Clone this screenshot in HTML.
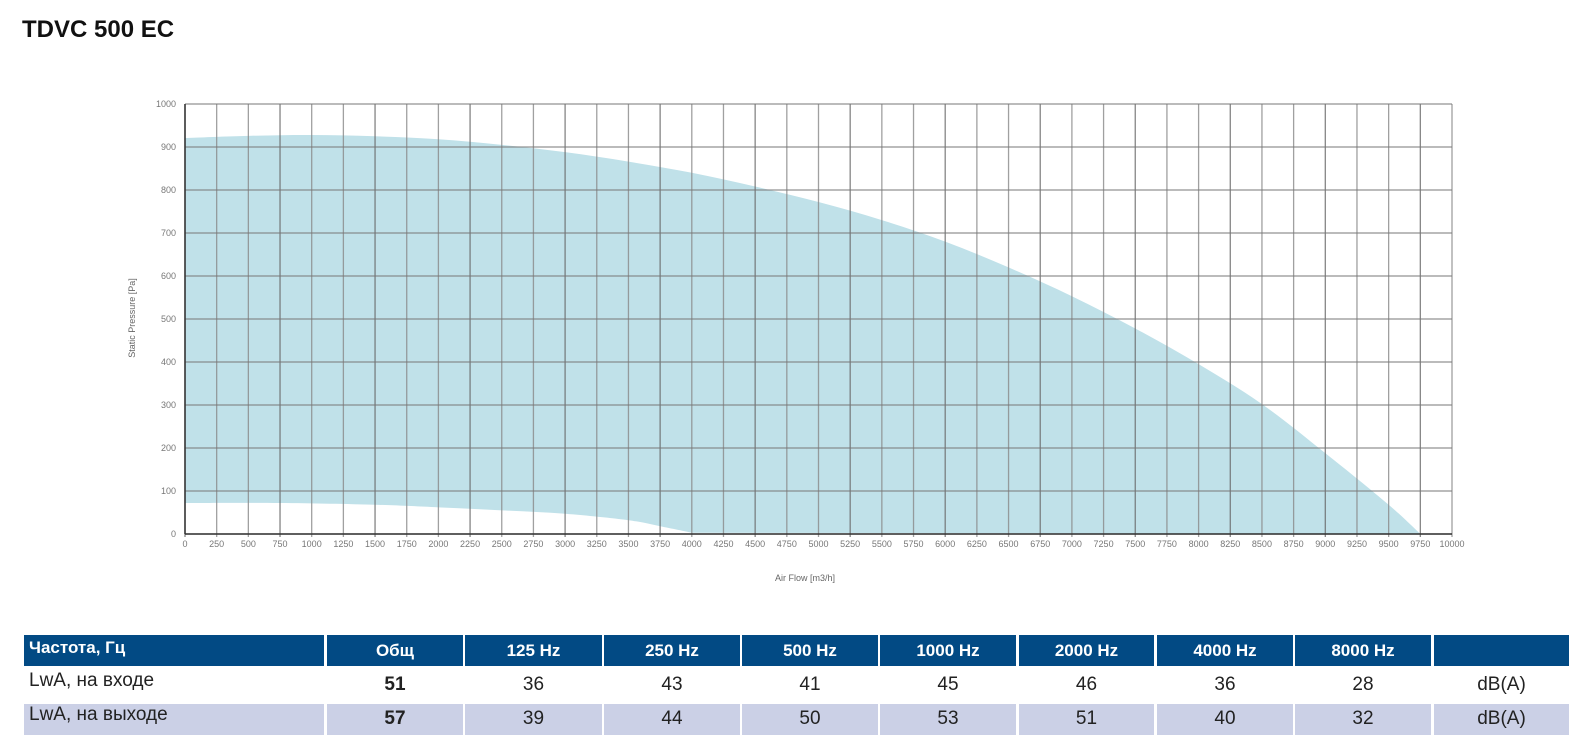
<!DOCTYPE html>
<html><head><meta charset="utf-8">
<style>
body{margin:0;width:1584px;height:749px;background:#fff;position:relative;overflow:hidden;font-family:"Liberation Sans","DejaVu Sans",sans-serif;}
#title{position:absolute;left:22px;top:16px;font-size:24px;font-weight:bold;color:#111;}
svg{position:absolute;left:0;top:0;}
.cell{position:absolute;box-sizing:border-box;text-align:center;font-size:19px;color:#222;}
.hd{background:#024a84;color:#fff;font-weight:bold;font-size:17px;line-height:32px;}
.r2{background:#cbd0e6;}
</style></head><body>
<div id="title">TDVC 500 EC</div>
<svg id="chart" width="1584" height="620"></svg>
<div id="table"></div>
<script>
const xTicks=[];for(let v=0;v<=10000;v+=250)xTicks.push(v);
const yTicks=[0,100,200,300,400,500,600,700,800,900,1000];
const upperFlow=[0,500,1000,1500,2000,2500,3000,3500,4000,4500,5000,5500,6000,6500,7000,7500,8000,8500,9000,9500,9750];
const upperPa=[921,926,928,925,918,905,888,866,840,808,772,730,680,620,553,478,395,302,188,68,0];
const lowerFlow=[0,750,1500,2000,2500,3000,3500,3750,4000];
const lowerPa=[72,72,68,62,55,47,32,18,3];
const X0=185,X1=1452,Y0=534,Y1=104;
const sx=v=>X0+(X1-X0)*v/10000, sy=v=>Y0-(Y0-Y1)*v/1000;
const svg=document.getElementById('chart');const NS='http://www.w3.org/2000/svg';
function mk(t,a){const e=document.createElementNS(NS,t);for(const k in a)e.setAttribute(k,a[k]);svg.appendChild(e);return e;}
function smooth(px){let s='';for(let i=0;i<px.length-1;i++){const p0=px[Math.max(0,i-1)],p1=px[i],p2=px[i+1],p3=px[Math.min(px.length-1,i+2)];
 s+=' C'+(p1[0]+(p2[0]-p0[0])/6)+','+(p1[1]+(p2[1]-p0[1])/6)+' '+(p2[0]-(p3[0]-p1[0])/6)+','+(p2[1]-(p3[1]-p1[1])/6)+' '+p2[0]+','+p2[1];}return s;}
const up=upperFlow.map((v,i)=>[sx(v),sy(upperPa[i])]);
const lo=lowerFlow.map((v,i)=>[sx(v),sy(lowerPa[i])]).reverse();
let d='M'+up[0][0]+','+up[0][1]+smooth(up)+' L'+lo[0][0]+','+lo[0][1]+smooth(lo)+'Z';
const area=mk('path',{d:d,fill:'#c0e1e9'});


xTicks.forEach((v,i)=>{
 const l=mk('line',{x1:sx(v),x2:sx(v),y1:Y1,y2:Y0+3,stroke:i%3==0?'#666':'#888','stroke-width':1.3,'stroke-opacity':0.8});
 
 
 const t=mk('text',{x:sx(v),y:Y0+13,'font-size':9,'text-anchor':'middle',fill:'#777'});t.textContent=v;
 
 
});
yTicks.forEach(v=>{
 const l=mk('line',{x1:X0,x2:X1,y1:sy(v),y2:sy(v),stroke:'#777','stroke-width':1.3,'stroke-opacity':0.8});
 
 
 const t=mk('text',{x:X0-9,y:sy(v)+3,'font-size':9,'text-anchor':'end',fill:'#777'});t.textContent=v;
 
 
});
mk('line',{x1:X0,x2:X1,y1:Y0,y2:Y0,stroke:'#333','stroke-width':1.5});
mk('line',{x1:X0,x2:X0,y1:Y1,y2:Y0,stroke:'#333','stroke-width':1.5});
const xt=mk('text',{x:805,y:581,'font-size':9,'text-anchor':'middle',fill:'#666'});xt.textContent='Air Flow [m3/h]';


const yt=mk('text',{x:0,y:0,'font-size':9,'text-anchor':'middle',fill:'#666',transform:'translate(135,318) rotate(-90)'});yt.textContent='Static Pressure [Pa]';


const cols=[[24,300],[327,136],[465,137],[604,136],[742,136],[880,136],[1019,135],[1157,136],[1295,136],[1434,135]];
const header=['Частота, Гц','Общ','125 Hz','250 Hz','500 Hz','1000 Hz','2000 Hz','4000 Hz','8000 Hz',''];
const row1=['LwA, на входе','51','36','43','41','45','46','36','28','dB(A)'];
const row2=['LwA, на выходе','57','39','44','50','53','51','40','32','dB(A)'];
const tb=document.getElementById('table');
const rows=[[header,635,31,'hd'],[row1,668,34,''],[row2,704,31,'r2']];
rows.forEach((r,ri)=>{r[0].forEach((txt,ci)=>{
 const c=document.createElement('div');c.className='cell '+r[3];
 c.style.left=cols[ci][0]+'px';c.style.width=cols[ci][1]+'px';c.style.top=r[1]+'px';c.style.height=r[2]+'px';
 if(ri>0){c.style.lineHeight=(ri==1?'34px':'30px');}
 if(ci==0){c.style.textAlign='left';c.style.paddingLeft='5px';if(ri>0)c.style.lineHeight=(ri==1?'26px':'22px');}
 if(ci==1&&ri>0)c.style.fontWeight='bold';
 if(ri==0&&ci==0)c.style.lineHeight='26px';
 c.textContent=txt;
 
 
 tb.appendChild(c);
});});
</script>
</body></html>
